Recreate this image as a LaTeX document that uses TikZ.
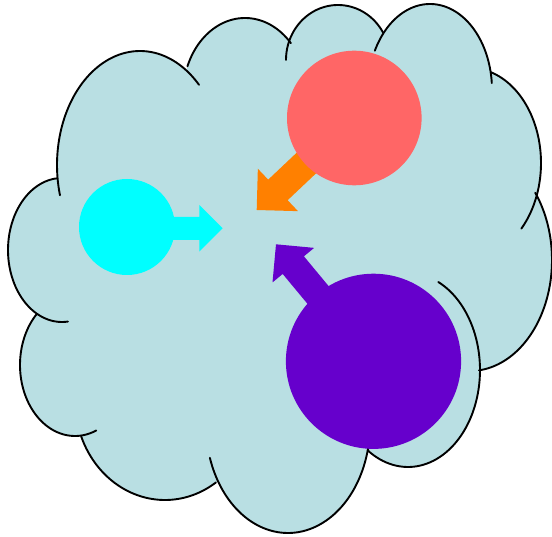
\documentclass[tikz,border=0pt]{standalone}
\usetikzlibrary{calc}
\definecolor{cloudblue}{RGB}{185,223,227}
\definecolor{salmon}{RGB}{255,102,102}
\definecolor{aqua}{RGB}{0,255,255}
\definecolor{orangeA}{RGB}{255,128,0}
\definecolor{violetA}{RGB}{102,0,204}
\tikzset{
  cloudfill/.style={fill=cloudblue},
  cloudline/.style={draw=black, line width=1.9pt, line cap=round},
  ball/.style={circle, inner sep=0pt, draw=none},
}
\newcommand\cloudlobe[6]{%
  \draw[cloudline] plot[domain=#5:#6, samples=70, variable=\t] ({#1+#3*cos(\t)},{#2+#4*sin(\t)});}
\newcommand\cloudfilllobe[4]{\fill[cloudfill] (#1,#2) ellipse (#3 and #4);}
% tip name, angle, shaft length, head length, head width, shaft width, colour
\newcommand\blockarrow[7]{%
  \begin{scope}[shift={(#1)}, rotate=#2]
    \fill[#7] (0,0) -- (-#4,#5/2) -- (-#4,#6/2) -- (-#3,#6/2) -- (-#3,-#6/2) -- (-#4,-#6/2) -- (-#4,-#5/2) -- cycle;
  \end{scope}}
\begin{document}
\begin{tikzpicture}[x=1pt,y=-1pt]
\useasboundingbox (0,0) rectangle (552,537);
% cloud body
\cloudfilllobe{140}{165}{83}{114}
\cloudfilllobe{245}{95}{62}{77}
\cloudfilllobe{338}{60}{52}{55}
\cloudfilllobe{430}{90}{62}{86}
\cloudfilllobe{470}{163}{71}{95}
\cloudfilllobe{470}{260}{82}{111}
\cloudfilllobe{408}{370}{72}{97}
\cloudfilllobe{288}{425}{82}{108}
\cloudfilllobe{165}{400}{90}{100}
\cloudfilllobe{75}{365}{55}{71}
\cloudfilllobe{62}{250}{54}{72}
\fill[cloudfill] (140,165) -- (245,95) -- (338,60) -- (430,90) -- (470,163) -- (470,260)
  -- (408,370) -- (288,425) -- (165,400) -- (75,365) -- (62,250) -- cycle;
% cloud outline
\cloudlobe{140}{165}{83}{114}{164.6}{315.3}
\cloudlobe{245}{95}{62}{77}{201.9}{317.7}
\cloudlobe{338}{60}{52}{55}{180}{330.1}
\cloudlobe{430}{90}{62}{86}{207.2}{355.4}
\cloudlobe{470}{163}{71}{95}{-72.8}{43.7}
\cloudlobe{470}{260}{82}{111}{-37.3}{83.7}
\cloudlobe{408}{370}{72}{97}{-65.1}{124}
\cloudlobe{288}{425}{82}{108}{12.3}{162.3}
\cloudlobe{165}{400}{90}{100}{55.5}{158.7}
\cloudlobe{75}{365}{55}{71}{67.3}{225.2}
\cloudlobe{62}{250}{54}{72}{83.7}{264.5}
% arrow tips
\coordinate (ctip) at (222.7,228.3);
\coordinate (otip) at (256.7,210);
\coordinate (ptip) at (276,244.3);
\blockarrow{ctip}{0}{95.7}{23.4}{46.7}{23}{aqua}
\blockarrow{otip}{-136.6}{134}{29.2}{58.4}{28.3}{orangeA}
\blockarrow{ptip}{129.7}{152}{27.1}{54.1}{27.6}{violetA}
% circles
\node[ball, fill=aqua, minimum size=96pt] (cyanball) at (127,227) {};
\node[ball, fill=salmon, minimum size=134.6pt] (redball) at (354.3,118) {};
\node[ball, fill=violetA, minimum size=175.2pt] (purpleball) at (373.5,361.3) {};
\end{tikzpicture}
\end{document}
